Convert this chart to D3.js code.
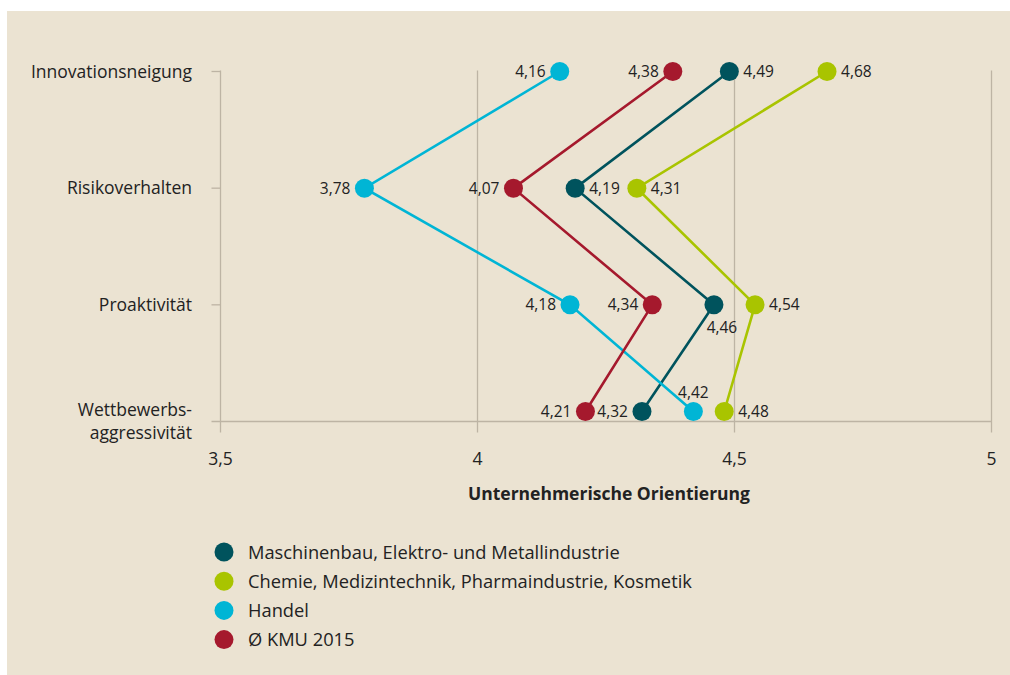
<!DOCTYPE html>
<html>
<head>
<meta charset="utf-8">
<script src="https://cdn.jsdelivr.net/npm/d3@7"></script>
<style>
  body { margin: 0; background: #fff; }
  svg text { font-family: "Open Sans", "Noto Sans", sans-serif; fill: #222; }
</style>
</head>
<body>
<div id="chart"></div>
<script>
// Unternehmerische Orientierung - dot/line chart

var categories = ["Innovationsneigung", "Risikoverhalten", "Proaktivität", "Wettbewerbs-aggressivität"];
var seriesNames = ["Maschinenbau, Elektro- und Metallindustrie",
                   "Chemie, Medizintechnik, Pharmaindustrie, Kosmetik",
                   "Handel",
                   "Ø KMU 2015"];
var maschinenbau = [4.49, 4.19, 4.46, 4.32];
var chemie       = [4.68, 4.31, 4.54, 4.48];
var handel       = [4.16, 3.78, 4.18, 4.42];
var kmu          = [4.38, 4.07, 4.34, 4.21];
var xTicks = [3.5, 4, 4.5, 5];

// where each value label sits: l = left, r = right, b = below right, t = above
var labelPlace = [
  ["r", "r", "b", "l"],
  ["r", "r", "r", "r"],
  ["l", "l", "l", "t"],
  ["l", "l", "l", "l"]
];
var colors = ["#00535d", "#a9c400", "#00b5d5", "#a5192d"];

var width = 1010, height = 675;
var fmt = function(v){ return d3.format(".2f")(v).replace(".", ","); };

var svg = d3.select("#chart").append("svg")
    .attr("width", width)
    .attr("height", height);

svg.append("rect")
   .attr("x", 7).attr("y", 11)
   .attr("width", width - 7).attr("height", height - 11)
   .attr("fill", "#ebe3d2");

var x = d3.scaleLinear().domain([3.5, 5]).range([220.5, 991.5]);
var y = d3.scalePoint().domain(categories).range([71.5, 421.5]);
var lift = 10; // last row sits a little above the axis line

var yPos = function(c){ return y(c) - (c === categories[categories.length - 1] ? lift : 0); };

var grid = "#bdb4a4";

// vertical grid
svg.append("g").selectAll("line").data(xTicks).enter().append("line")
   .attr("x1", function(d){ return x(d); })
   .attr("x2", function(d){ return x(d); })
   .attr("y1", y(categories[0]) - 1)
   .attr("y2", y(categories[3]) + 11)
   .attr("stroke", grid).attr("stroke-width", 1.3);

// x axis line
svg.append("line")
   .attr("x1", x(3.5) - 9).attr("x2", x(5))
   .attr("y1", y(categories[3])).attr("y2", y(categories[3]))
   .attr("stroke", grid).attr("stroke-width", 1.3);

// category ticks
svg.append("g").selectAll("line").data(categories.slice(0, 3)).enter().append("line")
   .attr("x1", x(3.5) - 9).attr("x2", x(3.5))
   .attr("y1", function(d){ return y(d); })
   .attr("y2", function(d){ return y(d); })
   .attr("stroke", grid).attr("stroke-width", 1.3);

// x tick labels
svg.append("g").selectAll("text").data(xTicks).enter().append("text")
   .attr("x", function(d){ return x(d); })
   .attr("y", 465)
   .attr("text-anchor", "middle")
   .style("font-size", "17.5px")
   .text(function(d){ return String(d).replace(".", ","); });

// category labels
var catLab = svg.append("g").selectAll("text").data(categories).enter().append("text")
   .attr("x", 192)
   .attr("text-anchor", "end")
   .style("font-size", "17.5px");
catLab.each(function(d, i){
  var t = d3.select(this);
  if (d.indexOf("-") > 0) {
    var parts = d.split("-");
    t.append("tspan").attr("x", 192).attr("y", y(d) - 6).text(parts[0] + "-");
    t.append("tspan").attr("x", 192).attr("y", y(d) + 17).text(parts[1]);
  } else {
    t.attr("y", y(d) + 6).text(d);
  }
});

// axis title
svg.append("text")
   .attr("x", 609).attr("y", 500)
   .attr("text-anchor", "middle")
   .style("font-size", "17.5px").style("font-weight", "bold")
   .text("Unternehmerische Orientierung");

var allSeries = [maschinenbau, chemie, handel, kmu];

var line = d3.line()
   .x(function(d){ return x(d.v); })
   .y(function(d){ return yPos(d.c); });

allSeries.forEach(function(vals, s){
  var pts = vals.map(function(v, i){ return {v: v, c: categories[i], p: labelPlace[s][i]}; });
  var g = svg.append("g");
  g.append("path").datum(pts)
   .attr("d", line)
   .attr("fill", "none")
   .attr("stroke", colors[s])
   .attr("stroke-width", 2.6);
  g.selectAll("circle").data(pts).enter().append("circle")
   .attr("cx", function(d){ return x(d.v); })
   .attr("cy", function(d){ return yPos(d.c); })
   .attr("r", 9.5)
   .attr("fill", colors[s]);
});

// value labels on top
allSeries.forEach(function(vals, s){
  var pts = vals.map(function(v, i){ return {v: v, c: categories[i], p: labelPlace[s][i]}; });
  svg.append("g").selectAll("text").data(pts).enter().append("text")
   .style("font-size", "15.5px")
   .attr("text-anchor", function(d){ return d.p === "l" ? "end" : (d.p === "r" ? "start" : "middle"); })
   .attr("x", function(d){
     var cx = x(d.v);
     if (d.p === "l") return cx - 14;
     if (d.p === "r") return cx + 14;
     if (d.p === "b") return cx + 8;
     return cx;
   })
   .attr("y", function(d){
     var cy = yPos(d.c);
     if (d.p === "b") return cy + 28;
     if (d.p === "t") return cy - 14;
     return cy + 5.5;
   })
   .text(function(d){ return fmt(d.v); });
});

// legend
var legend = svg.append("g").selectAll("g").data(seriesNames).enter().append("g")
   .attr("transform", function(d, i){ return "translate(224," + (552 + i * 29.2) + ")"; });
legend.append("circle").attr("r", 9.5).attr("fill", function(d, i){ return colors[i]; });
legend.append("text")
   .attr("x", 24).attr("y", 6.5)
   .style("font-size", "18.3px")
   .text(function(d){ return d; });
</script>
</body>
</html>
